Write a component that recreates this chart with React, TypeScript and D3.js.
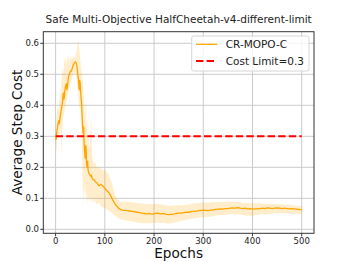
import React from "react";
import * as d3 from "d3";

// CR-MOPO-C step cost: [epoch, mean, band low, band high]
const earlyRows: [number, number, number, number][] = [
  [0, .30, .29, .31], [1, .29, .26, .33], [2, .31, .25, .36], [3, .32, .29, .38], [4, .33, .29, .40],
  [5, .34, .30, .39], [6, .35, .30, .38], [7, .34, .31, .41], [8, .345, .31, .42], [9, .36, .32, .43],
  [10, .37, .32, .44], [11, .38, .30, .46], [12, .39, .20, .48], [13, .40, .31, .50], [14, .41, .33, .52],
  [15, .43, .35, .51], [16, .44, .36, .50], [17, .42, .37, .53], [18, .43, .38, .55], [19, .45, .39, .54],
  [20, .46, .40, .56], [22, .47, .41, .53], [23, .45, .42, .54], [24, .46, .43, .55], [26, .49, .44, .56],
  [28, .50, .46, .54], [30, .51, .47, .56], [32, .51, .48, .55], [34, .52, .49, .55], [36, .53, .50, .56],
  [38, .535, .50, .55], [40, .54, .51, .56], [42, .535, .49, .57], [44, .52, .46, .59], [45, .50, .45, .60],
  [46, .49, .43, .61], [47, .47, .41, .60], [48, .45, .38, .58], [49, .48, .40, .57], [50, .47, .40, .55],
  [51, .44, .36, .53], [52, .42, .33, .52], [53, .40, .30, .50], [54, .36, .24, .49], [55, .33, .15, .47],
  [56, .31, .07, .45], [57, .33, .12, .43], [58, .28, .15, .40], [59, .25, .12, .36], [60, .23, .10, .33],
  [61, .27, .13, .40], [62, .26, .12, .42], [63, .21, .09, .34], [64, .20, .08, .30], [65, .22, .10, .33],
  [66, .19, .11, .36], [67, .185, .10, .30], [68, .18, .09, .26], [70, .175, .10, .28], [72, .17, .09, .37],
  [73, .175, .10, .30], [74, .165, .10, .24], [76, .16, .08, .22], [78, .16, .10, .21], [80, .155, .09, .22],
  [82, .152, .085, .205], [84, .15, .08, .20], [86, .145, .085, .20], [88, .14, .085, .20], [90, .143, .08, .198],
  [92, .145, .075, .195], [94, .142, .072, .193], [96, .14, .07, .19], [98, .136, .07, .19], [100, .133, .07, .19],
  [104, .125, .065, .185], [108, .118, .06, .175], [112, .108, .055, .16], [116, .095, .05, .14], [120, .084, .045, .115],
  [124, .075, .04, .10], [128, .068, .035, .095],
];
const tailRows: [number, number, number, number][] = [
  [130, .066, .033, .092], [135, .062, .031, .089], [140, .061, .030, .088], [145, .060, .028, .090], [150, .059, .027, .087],
  [155, .058, .025, .088], [160, .057, .024, .086], [165, .055, .022, .085], [170, .054, .021, .084], [175, .052, .020, .083],
  [180, .051, .019, .082], [185, .050, .020, .081], [190, .051, .019, .082], [195, .049, .020, .081], [200, .050, .021, .082],
  [205, .052, .022, .083], [210, .051, .021, .081], [215, .050, .020, .080], [220, .051, .021, .079], [225, .048, .019, .077],
  [230, .047, .018, .076], [235, .048, .020, .076], [240, .049, .021, .077], [245, .051, .023, .078], [250, .052, .025, .078],
  [255, .052, .027, .077], [260, .054, .029, .078], [265, .055, .031, .079], [270, .055, .032, .080], [275, .057, .034, .082],
  [280, .058, .035, .083], [285, .058, .036, .084], [290, .060, .037, .085], [295, .061, .038, .086], [300, .062, .039, .087],
  [305, .061, .039, .086], [310, .060, .040, .085], [315, .062, .041, .087], [320, .063, .042, .088], [325, .064, .044, .087],
  [330, .065, .045, .088], [335, .066, .045, .089], [340, .065, .046, .088], [345, .067, .047, .089], [350, .067, .048, .090],
  [355, .068, .049, .089], [360, .069, .049, .090], [365, .068, .048, .089], [370, .070, .048, .089], [375, .068, .047, .087],
  [380, .067, .046, .086], [385, .068, .045, .086], [390, .066, .044, .085], [395, .067, .044, .085], [400, .065, .043, .084],
  [405, .066, .045, .084], [410, .066, .046, .085], [415, .067, .048, .084], [420, .068, .049, .083], [425, .067, .048, .083],
  [430, .069, .048, .082], [435, .068, .049, .083], [440, .067, .050, .082], [445, .068, .051, .082], [450, .069, .051, .081],
  [455, .068, .052, .081], [460, .067, .052, .081], [465, .068, .051, .080], [470, .067, .051, .080], [475, .066, .050, .079],
  [480, .067, .050, .078], [485, .066, .050, .077], [490, .065, .049, .076], [495, .064, .049, .076], [500, .063, .049, .075],
];
const costLimit = 0.3;
const xTicks = [0, 100, 200, 300, 400, 500];
const yTicks = [0.0, 0.1, 0.2, 0.3, 0.4, 0.5, 0.6];

const W = 349, H = 262;
const left = 43.3, right = 314, top = 31.7, bottom = 233.3;
const font = "DejaVu Sans, sans-serif";

export default function App() {
  const x = d3.scaleLinear().domain([-25, 525]).range([left, right]);
  const y = d3.scaleLinear().domain([-0.0129, 0.6374]).range([bottom, top]);
  const rows = earlyRows.concat(tailRows);
  const band = d3.area<[number, number, number, number]>()
    .x(d => x(d[0])).y0(d => y(d[2])).y1(d => y(d[3]))(rows) || "";
  const line = d3.line<[number, number, number, number]>()
    .x(d => x(d[0])).y(d => y(d[1]))(rows) || "";

  return (
    <svg width={W} height={H} style={{ position: "fixed", left: 0, top: 0, background: "#fff" }} fontFamily={font}>
      <rect x={0} y={0} width={W} height={H} fill="#fff" />
      <text x={(left + right) / 2} y={22.7} fontSize={10.5} textAnchor="middle" fill="#222">
        Safe Multi-Objective HalfCheetah-v4-different-limit
      </text>
      {xTicks.map(t => (
        <line key={"gx" + t} x1={x(t)} x2={x(t)} y1={top} y2={bottom} stroke="#cbcbcb" strokeWidth={1} />
      ))}
      {yTicks.map(t => (
        <line key={"gy" + t} x1={left} x2={right} y1={y(t)} y2={y(t)} stroke="#cbcbcb" strokeWidth={1} />
      ))}
      <path d={band} fill="orange" fillOpacity={0.2} />
      <path d={line} fill="none" stroke="orange" strokeWidth={1.3} strokeLinejoin="round" />
      <line x1={x(0)} x2={x(500)} y1={y(costLimit)} y2={y(costLimit)} stroke="#ff0000" strokeWidth={2} strokeDasharray="7.4 3.2" />
      <rect x={left} y={top} width={right - left} height={bottom - top} fill="none" stroke="#333" strokeWidth={1} />
      {xTicks.map(t => (
        <g key={"tx" + t}>
          <line x1={x(t)} x2={x(t)} y1={bottom} y2={bottom + 3} stroke="#333" />
          <text x={x(t)} y={244.3} fontSize={8.5} textAnchor="middle" fill="#222">{t}</text>
        </g>
      ))}
      {yTicks.map(t => (
        <g key={"ty" + t}>
          <line x1={left - 3} x2={left} y1={y(t)} y2={y(t)} stroke="#333" />
          <text x={39} y={y(t) + 3} fontSize={8.5} textAnchor="end" fill="#222">{t.toFixed(1)}</text>
        </g>
      ))}
      <text x={(left + right) / 2} y={258.3} fontSize={13.6} textAnchor="middle" fill="#111">Epochs</text>
      <text transform={`translate(21.7,${(top + bottom) / 2}) rotate(-90)`} fontSize={13.6} textAnchor="middle" fill="#111">
        Average Step Cost
      </text>
      <g>
        <rect x={191.7} y={36} width={117.3} height={35} rx={2} fill="#fff" fillOpacity={0.8} stroke="#d6d6d6" />
        <line x1={196} x2={217.3} y1={44.3} y2={44.3} stroke="orange" strokeWidth={1.3} />
        <text x={225.7} y={48.3} fontSize={10.5} fill="#222">CR-MOPO-C</text>
        <line x1={196} x2={217.3} y1={61} y2={61} stroke="#ff0000" strokeWidth={2} strokeDasharray="7.4 3.2" />
        <text x={225.7} y={65} fontSize={10.5} fill="#222">Cost Limit=0.3</text>
      </g>
    </svg>
  );
}
